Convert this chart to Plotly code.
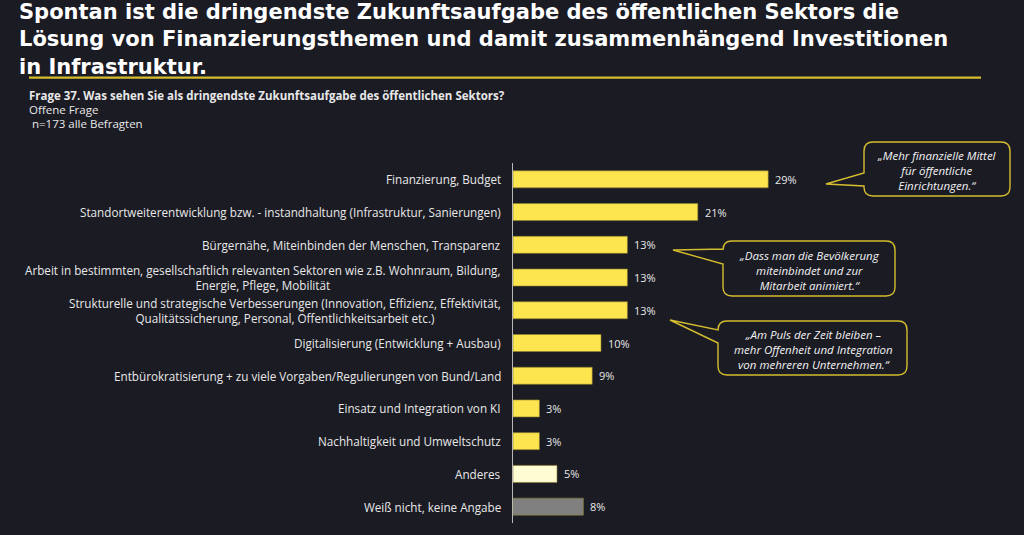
import plotly.graph_objects as go

# ---------------- data ----------------
categories = [
    "Finanzierung, Budget",
    "Standortweiterentwicklung bzw. - instandhaltung (Infrastruktur, Sanierungen)",
    "Bürgernähe, Miteinbinden der Menschen, Transparenz",
    "Arbeit in bestimmten, gesellschaftlich relevanten Sektoren wie z.B. Wohnraum, Bildung,<br>Energie, Pflege, Mobilität",
    "Strukturelle und strategische Verbesserungen (Innovation, Effizienz, Effektivität,<br>Qualitätssicherung, Personal, Öffentlichkeitsarbeit etc.)",
    "Digitalisierung (Entwicklung + Ausbau)",
    "Entbürokratisierung + zu viele Vorgaben/Regulierungen von Bund/Land",
    "Einsatz und Integration von KI",
    "Nachhaltigkeit und Umweltschutz",
    "Anderes",
    "Weiß nicht, keine Angabe",
]
values = [29, 21, 13, 13, 13, 10, 9, 3, 3, 5, 8]
value_labels = ["29%", "21%", "13%", "13%", "13%", "10%", "9%", "3%", "3%", "5%", "8%"]

title_text = ("Spontan ist die dringendste Zukunftsaufgabe des öffentlichen Sektors die<br>"
              "Lösung von Finanzierungsthemen und damit zusammenhängend Investitionen<br>"
              "in Infrastruktur.")
subtitle_lines = [
    "<b>Frage 37. Was sehen Sie als dringendste Zukunftsaufgabe des öffentlichen Sektors?</b>",
    "Offene Frage",
    " n=173 alle Befragten",
]
quotes = [
    "„Mehr finanzielle Mittel<br>für öffentliche<br>Einrichtungen.“",
    "„Dass man die Bevölkerung<br>miteinbindet und zur<br>Mitarbeit animiert.“",
    "„Am Puls der Zeit bleiben –<br>mehr Offenheit und Integration<br>von mehreren Unternehmen.“",
]

# ---------------- style ----------------
BG = "#1b1b24"
YELLOW = "#fde54f"
CREAM = "#fffbd3"
GREY = "#808080"
GOLD = "#d4bd2e"
TXT = "#e8e8e8"
FONT = "Open Sans"

bar_colors = [YELLOW] * 9 + [CREAM, GREY]

W, H = 1024, 535
L, R, T, B = 513, 71, 163, 12
PW, PH = W - L - R, H - T - B


def px(x):
    return (x - L) / PW


def py(y):
    return (H - B - y) / PH


fig = go.Figure()
fig.add_trace(go.Bar(
    x=values, y=categories, orientation="h",
    marker=dict(color=bar_colors, line=dict(color="#8c7f2c", width=0.6)),
    hoverinfo="skip",
))

annotations = []
# category labels (centered multi-line, right aligned box)
for c in categories:
    annotations.append(dict(
        x=px(503), xref="paper", y=c, yref="y", text=c, showarrow=False,
        xanchor="right", yanchor="middle", align="center",
        font=dict(family=FONT, size=11.7, color=TXT),
    ))
# value labels
for c, v, t in zip(categories, values, value_labels):
    annotations.append(dict(
        x=v, xref="x", y=c, yref="y", text=t, showarrow=False,
        xanchor="left", yanchor="middle", xshift=5,
        font=dict(family=FONT, size=11, color=TXT),
    ))
# title
annotations.append(dict(
    x=px(17), xref="paper", y=py(-2), yref="paper", text=title_text,
    showarrow=False, xanchor="left", yanchor="top", align="left",
    font=dict(family="DejaVu Sans", size=21, color="#ffffff", weight="bold"),
))
# subtitle
for i, line in enumerate(subtitle_lines):
    annotations.append(dict(
        x=px(27), xref="paper", y=py(95 + 14.5 * i), yref="paper", text=line,
        showarrow=False, xanchor="left", yanchor="middle",
        font=dict(family=FONT, size=11.5, color=TXT),
    ))

# callout boxes: (left, top, right, bottom, tail_top, tail_bottom, tip_x, tip_y, text_cx, text_cy)
boxes = [
    (864, 142, 1010, 196, 173, 186, 826, 184, 937, 170),
    (723, 241, 895, 296, 249, 264, 673, 250, 809, 270),
    (718, 321, 907, 375, 330, 343, 670, 320, 813, 349),
]
shapes = []
rr = 9
for (l, t, r, b, tt, tb, tx, ty, cx, cy), q in zip(boxes, quotes):
    pts = [
        ("M", l + rr, t), ("L", r - rr, t), ("Q", r, t, r, t + rr),
        ("L", r, b - rr), ("Q", r, b, r - rr, b), ("L", l + rr, b),
        ("Q", l, b, l, b - rr), ("L", l, tb), ("L", tx, ty), ("L", l, tt),
        ("L", l, t + rr), ("Q", l, t, l + rr, t),
    ]
    path = ""
    for p in pts:
        cmd = p[0]
        coords = p[1:]
        s = " ".join(f"{px(coords[k]):.5f},{py(coords[k + 1]):.5f}" for k in range(0, len(coords), 2))
        path += f"{cmd} {s} "
    path += "Z"
    shapes.append(dict(type="path", xref="paper", yref="paper", path=path,
                       fillcolor=BG, line=dict(color=GOLD, width=1.4), layer="above"))
    annotations.append(dict(
        x=px(cx), xref="paper", y=py(cy), yref="paper", text=q,
        showarrow=False, xanchor="center", yanchor="middle", align="center",
        font=dict(family=FONT, size=11.5, color="#f2f2f2", style="italic"),
    ))

# separator line under title
shapes.append(dict(type="line", xref="paper", yref="paper",
                   x0=px(29), x1=px(981), y0=py(77.7), y1=py(77.7),
                   line=dict(color=GOLD, width=2.2)))

fig.update_layout(
    width=W, height=H,
    margin=dict(l=L, r=R, t=T, b=B),
    paper_bgcolor=BG, plot_bgcolor=BG,
    bargap=0.48,
    showlegend=False,
    font=dict(family=FONT, color=TXT),
    xaxis=dict(range=[0, 50], visible=False, showgrid=False, zeroline=False),
    yaxis=dict(categoryorder="array", categoryarray=categories, autorange="reversed",
               showticklabels=False, ticks="", showgrid=False, zeroline=False,
               showline=True, linecolor="#b8b8b8", linewidth=1),
    annotations=annotations,
    shapes=shapes,
)

fig.write_html("out.html", config={"displayModeBar": False})
